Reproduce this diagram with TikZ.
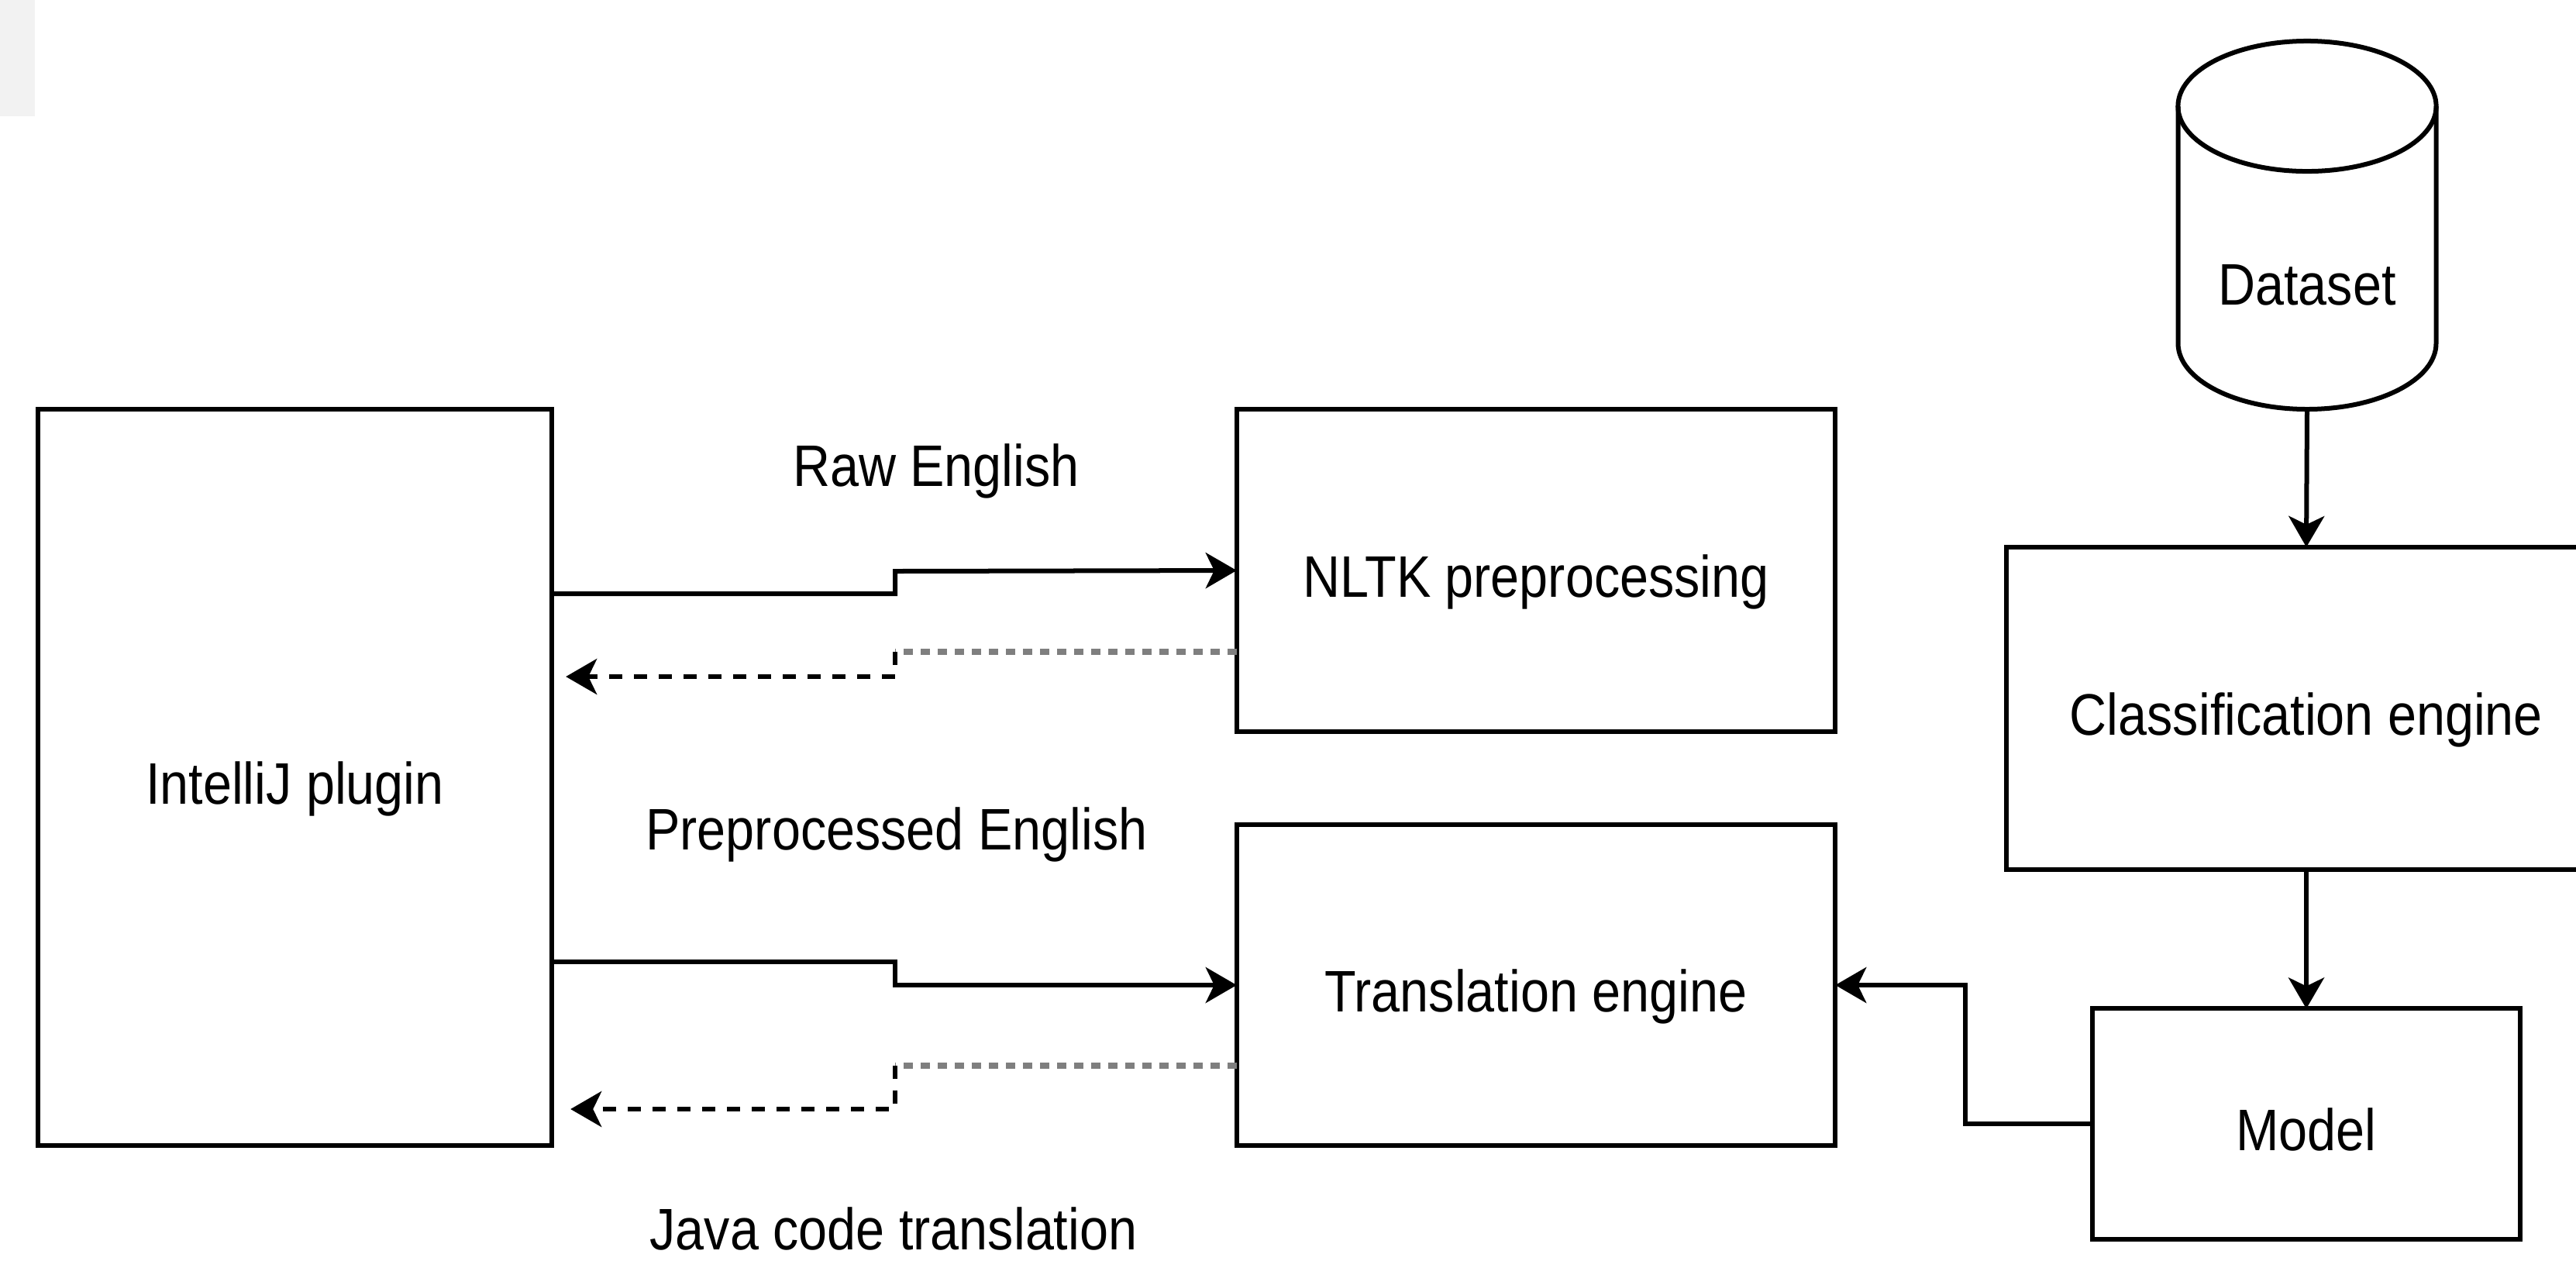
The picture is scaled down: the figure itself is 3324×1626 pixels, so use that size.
\documentclass[tikz,border=0pt]{standalone}
\usepackage{fontspec}
\setmainfont{Liberation Sans}[FakeStretch=0.88]
\usetikzlibrary{arrows.meta,calc}
\definecolor{bggray}{HTML}{F2F2F2}
\definecolor{dotgray}{HTML}{7F7F7F}
\begin{document}
\begin{tikzpicture}[x=0.01cm,y=-0.01cm,
  font=\fontsize{21.5}{25}\selectfont,
  box/.style={draw, line width=0.06cm, inner sep=0, outer sep=0, align=center,
              text height=0.84cm, text depth=0.15cm},
  tip/.style={-{Stealth[length=0.4cm,width=0.46cm,inset=0.11cm]}},
  arr/.style={line width=0.06cm, tip},
  dashret/.style={line width=0.055cm, dash pattern=on 0.17cm off 0.15cm, tip},
  dotret/.style={dotgray, line width=0.08cm, dash pattern=on 0.12cm off 0.10cm},
  lbl/.style={anchor=base, inner sep=0}]
\useasboundingbox (0,0) rectangle (3324,1626);
\clip (0,0) rectangle (3324,1626);
\fill[white] (0,0) rectangle (3324,1626);
\fill[bggray] (0,0) rectangle (45,150);

% boxes
\node[box, minimum width=6.63cm, minimum height=9.5cm] (intellij) at (380.5,1003) {IntelliJ plugin};
\node[box, minimum width=7.72cm, minimum height=4.16cm] (nltk) at (1982,736) {NLTK preprocessing};
\node[box, minimum width=7.72cm, minimum height=4.14cm] (trans) at (1982,1271) {Translation engine};
\node[box, minimum width=7.74cm, minimum height=4.16cm] (cls) at (2976,914) {Classification engine};
\node[box, minimum width=5.52cm, minimum height=2.97cm] (model) at (2976,1450) {Model};

% dataset cylinder
\draw[line width=0.06cm] (2977,137) ellipse [x radius=1.665cm, y radius=0.84cm];
\draw[line width=0.06cm] (2810.5,137) -- (2810.5,443)
  .. controls (2810.5,490) and (2885,528) .. (2977,528)
  .. controls (3069,528) and (3143.5,490) .. (3143.5,443) -- (3143.5,137);
\node[inner sep=0, text height=0.54cm, text depth=0.15cm] (dataset) at (2977,374) {Dataset};
\coordinate (dsbot) at (2977,528);

% labels
\node[lbl] (lraw) at (1208,627) {Raw English};
\node[lbl] (lpre) at (1157,1096) {Preprocessed English};
\node[lbl] (ljava) at (1153,1612) {Java code translation};

% plugin -> NLTK
\draw[arr] (intellij.east |- 0,766) -| (1155,737) -- (nltk.west);
\draw[dotret] (nltk.west |- 0,841) -- (1155,841);
\draw[dashret, shorten >=0.18cm]
  (1155,841) -- (1155,873) -- (intellij.east |- 0,873);

% plugin -> translation
\draw[arr] (intellij.east |- 0,1241) -| (1155,1271) -- (trans.west);
\draw[dotret] (trans.west |- 0,1375) -- (1155,1375);
\draw[dashret, shorten >=0.24cm]
  (1155,1375) -- (1155,1431) -- (intellij.east |- 0,1431);

% right column
\draw[arr] (dsbot) -- (cls.north);
\draw[arr] (cls.south) -- (model.north);
\draw[arr] (model.west) -- (2536,1450) -- (2536,1271) -- (trans.east);
\end{tikzpicture}
\end{document}
